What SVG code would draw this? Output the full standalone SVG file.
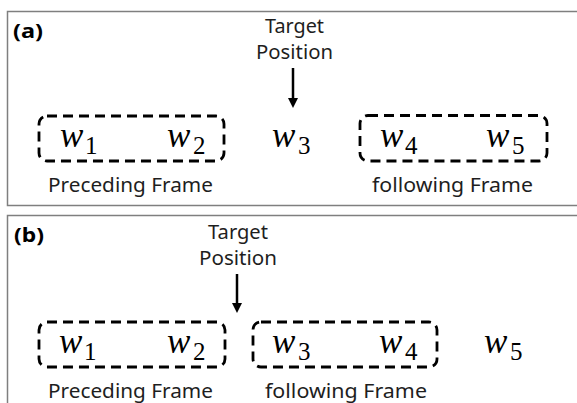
<svg xmlns="http://www.w3.org/2000/svg" width="577" height="403" viewBox="0 0 577 403">
<defs>
<style>
.panel{fill:#fff;stroke:#7f7f7f;stroke-width:1.5}
.frame{fill:none;stroke:#000;stroke-width:2.8;stroke-dasharray:10 6}
.lbl{font-family:"Noto Sans","Liberation Sans",Arial,sans-serif;font-size:20px;fill:#1e1e1e}
.tag{font-family:"Noto Sans","Liberation Sans",Arial,sans-serif;font-size:20px;font-weight:bold;fill:#000}
.w{font-family:"Liberation Serif","Times New Roman",serif;font-style:italic;font-size:35px;fill:#000}
.sub{font-style:normal;font-size:25px}
.arrow{stroke:#000;stroke-width:2.5;fill:none;marker-end:url(#ah)}
</style>
<marker id="ah" viewBox="0 0 10 10" refX="0" refY="5" markerWidth="4" markerHeight="4" orient="auto" markerUnits="strokeWidth">
<path d="M0,0 L10,5 L0,10 z" fill="#000"/>
</marker>
</defs>

<g id="panel-a">
<rect class="panel" x="7.5" y="11.5" width="600" height="194"/>
<text class="tag" x="13" y="38" textLength="30" lengthAdjust="spacingAndGlyphs">(a)</text>
</g>
<g id="panel-b">
<rect class="panel" x="7.5" y="215.5" width="600" height="300"/>
<text class="tag" x="14" y="242" textLength="30" lengthAdjust="spacingAndGlyphs">(b)</text>
</g>

<g id="a-target">
<text class="lbl" x="265" y="33" textLength="59" lengthAdjust="spacingAndGlyphs">Target</text>
<text class="lbl" x="256" y="59" textLength="77" lengthAdjust="spacingAndGlyphs">Position</text>
</g>
<g id="a-preceding">
<rect class="frame" x="39" y="116" width="185" height="45" rx="8"/>
<text class="w" x="60" y="147">w<tspan class="sub" x="85" y="154">1</tspan></text>
<text class="w" x="167" y="147">w<tspan class="sub" x="193" y="154">2</tspan></text>
<text class="lbl" x="48" y="192" textLength="165" lengthAdjust="spacingAndGlyphs">Preceding Frame</text>
</g>
<g id="a-w3">
<text class="w" x="272" y="147">w<tspan class="sub" x="298" y="154">3</tspan></text>
</g>
<g id="a-following">
<rect class="frame" x="360" y="115.5" width="187" height="45.5" rx="8"/>
<text class="w" x="380" y="147">w<tspan class="sub" x="405" y="154">4</tspan></text>
<text class="w" x="486" y="147">w<tspan class="sub" x="512" y="154">5</tspan></text>
<text class="lbl" x="372" y="192" textLength="161" lengthAdjust="spacingAndGlyphs">following Frame</text>
</g>

<g id="b-target">
<text class="lbl" x="208" y="239" textLength="60" lengthAdjust="spacingAndGlyphs">Target</text>
<text class="lbl" x="199" y="265" textLength="78" lengthAdjust="spacingAndGlyphs">Position</text>
</g>
<g id="b-preceding">
<rect class="frame" x="39" y="322" width="186" height="45" rx="8"/>
<text class="w" x="59" y="353">w<tspan class="sub" x="84" y="360">1</tspan></text>
<text class="w" x="167" y="353">w<tspan class="sub" x="193" y="360">2</tspan></text>
<text class="lbl" x="48" y="398" textLength="165" lengthAdjust="spacingAndGlyphs">Preceding Frame</text>
</g>
<g id="b-following">
<rect class="frame" x="253" y="322" width="184" height="45" rx="8"/>
<text class="w" x="272" y="353">w<tspan class="sub" x="298" y="360">3</tspan></text>
<text class="w" x="379" y="353">w<tspan class="sub" x="405" y="360">4</tspan></text>
<text class="lbl" x="265" y="398" textLength="162" lengthAdjust="spacingAndGlyphs">following Frame</text>
</g>
<g id="b-w5">
<text class="w" x="484" y="353">w<tspan class="sub" x="510" y="360">5</tspan></text>
</g>

<g id="connectors">
<line class="arrow" x1="293" y1="68" x2="293" y2="98"/>
<line class="arrow" x1="237" y1="274" x2="237" y2="303"/>
</g>
</svg>
